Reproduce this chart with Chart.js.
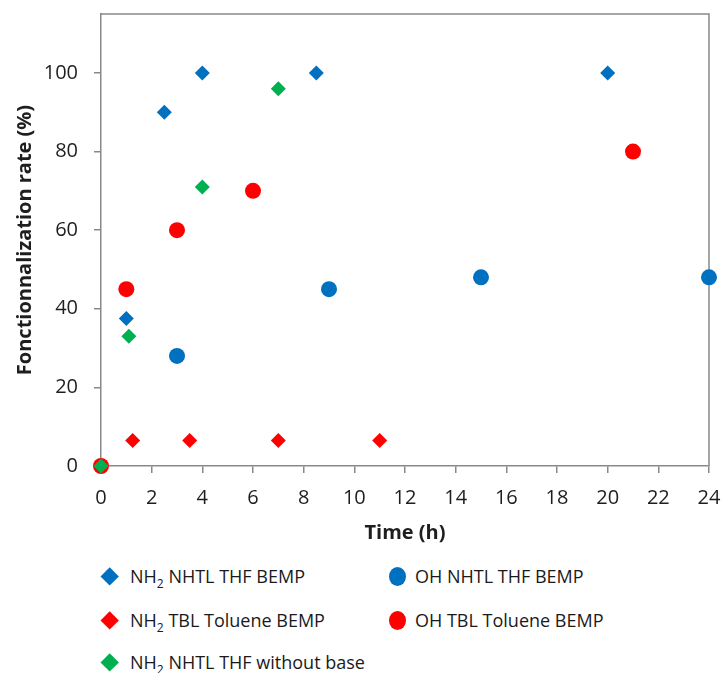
<!DOCTYPE html>
<html>
<head>
<meta charset="utf-8">
<script src="https://cdn.jsdelivr.net/npm/chart.js@4/dist/chart.umd.min.js"></script>
<style>
  html, body { margin: 0; padding: 0; background: #ffffff; }
  #wrap { position: relative; width: 724px; height: 673px; overflow: hidden; background: #fff; }
  #c { position: absolute; left: 0; top: 0; }
  .leg { position: absolute; height: 30px; line-height: 30px;
         font-family: "Open Sans", "Noto Sans", sans-serif; font-size: 18px; color: #1a1a1a; white-space: pre; }
  .leg .sub { font-size: 12px; position: relative; top: 5px; }
  .mk { position: absolute; }
</style>
</head>
<body>
<div id="wrap">
  <canvas id="c" width="724" height="560"></canvas>
</div>
<script>
// ---- Data ----
const xTicks = [0, 2, 4, 6, 8, 10, 12, 14, 16, 18, 20, 22, 24];
const yTicks = [0, 20, 40, 60, 80, 100];

const seriesNames = [
  "NH2 NHTL THF BEMP",
  "OH NHTL THF BEMP",
  "NH2 TBL Toluene BEMP",
  "OH TBL Toluene BEMP",
  "NH2 NHTL THF without base"
];
const seriesColors = ["#0070C0", "#0070C0", "#FF0000", "#FF0000", "#00B050"];
const seriesShapes = ["rectRot", "circle", "rectRot", "circle", "rectRot"];

const nh2NhtlThfBempX = [1, 2.5, 4, 8.5, 20];
const nh2NhtlThfBempY = [37.5, 90, 100, 100, 100];

const ohNhtlThfBempX = [3, 9, 15, 24];
const ohNhtlThfBempY = [28, 45, 48, 48];

const nh2TblTolueneBempX = [1.25, 3.5, 7, 11];
const nh2TblTolueneBempY = [6.5, 6.5, 6.5, 6.5];

const ohTblTolueneBempX = [0, 1, 3, 6, 21];
const ohTblTolueneBempY = [0, 45, 60, 70, 80];

const nh2NhtlThfNoBaseX = [0, 1.1, 4, 7];
const nh2NhtlThfNoBaseY = [0, 33, 71, 96];

const seriesX = [nh2NhtlThfBempX, ohNhtlThfBempX, nh2TblTolueneBempX, ohTblTolueneBempX, nh2NhtlThfNoBaseX];
const seriesY = [nh2NhtlThfBempY, ohNhtlThfBempY, nh2TblTolueneBempY, ohTblTolueneBempY, nh2NhtlThfNoBaseY];

// ---- Build datasets ----
const datasets = seriesNames.map((name, i) => ({
  label: name,
  data: seriesX[i].map((x, k) => ({ x: x, y: seriesY[i][k] })),
  pointStyle: seriesShapes[i],
  pointRadius: seriesShapes[i] === "circle" ? 8 : 7.5,
  pointHoverRadius: seriesShapes[i] === "circle" ? 8 : 7.5,
  backgroundColor: seriesColors[i],
  borderColor: seriesColors[i],
  borderWidth: 0,
  showLine: false,
  clip: false,
  order: seriesNames.length - i   // later series drawn on top (as in Excel)
}));

const AXIS = "#898989";
const TXT = "#1e1e1e";
const FONT = '"Open Sans", "Noto Sans", sans-serif';

const frame = {
  id: "frame",
  beforeDatasetsDraw(chart) {
    const a = chart.chartArea, ctx = chart.ctx;
    ctx.save();
    ctx.strokeStyle = AXIS;
    ctx.lineWidth = 1.5;
    ctx.beginPath();
    ctx.moveTo(a.left, a.top);
    ctx.lineTo(a.right, a.top);
    ctx.lineTo(a.right, a.bottom);
    ctx.stroke();
    ctx.restore();
  }
};

function noPad(s) { s.paddingLeft = 0; s.paddingRight = 0; s.paddingTop = 0; s.paddingBottom = 0; }

new Chart(document.getElementById("c"), {
  type: "scatter",
  data: { datasets },
  plugins: [frame],
  options: {
    responsive: false,
    animation: false,
    events: [],
    layout: { padding: { left: 0, top: 14, right: 15, bottom: 0 } },
    plugins: { legend: { display: false }, tooltip: { enabled: false } },
    scales: {
      x: {
        type: "linear", min: 0, max: 24,
        afterBuildTicks: s => { s.ticks = xTicks.map(v => ({ value: v })); },
        afterFit: s => { s.height = 94; noPad(s); },
        ticks: { font: { family: FONT, size: 20 }, color: TXT, padding: 13, maxRotation: 0, autoSkip: false },
        grid: { drawOnChartArea: false, drawTicks: true, tickLength: 7, color: AXIS, lineWidth: 1.5 },
        border: { color: AXIS, width: 1.5 },
        title: { display: true, text: "Time (h)", font: { family: FONT, size: 20, weight: "bold" }, color: TXT, padding: { top: 0, bottom: 15 } }
      },
      y: {
        type: "linear", min: 0, max: 115,
        afterBuildTicks: s => { s.ticks = yTicks.map(v => ({ value: v })); },
        afterFit: s => { s.width = 101; noPad(s); },
        ticks: { font: { family: FONT, size: 20 }, color: TXT, padding: 16, autoSkip: false },
        grid: { drawOnChartArea: false, drawTicks: true, tickLength: 7, color: AXIS, lineWidth: 1.5 },
        border: { color: AXIS, width: 1.5 },
        title: { display: true, text: "Fonctionnalization rate (%)", font: { family: FONT, size: 20, weight: "bold" }, color: TXT, padding: { top: 13, bottom: 0 } }
      }
    }
  }
});

// ---- HTML legend (2 columns, rows filled left to right, like the original) ----
const legendCols = [{ mx: 110, tx: 130 }, { mx: 397, tx: 415 }];
const legendRows = [576.5, 620.5, 663];
const wrap = document.getElementById("wrap");
seriesNames.forEach((name, i) => {
  const col = legendCols[i % 2], rowY = legendRows[Math.floor(i / 2)];
  const mk = document.createElement("div");
  mk.className = "mk";
  if (seriesShapes[i] === "circle") {
    const w = 17, h = 19;
    Object.assign(mk.style, { left: (col.mx - w / 2) + "px", top: (rowY - h / 2) + "px", width: w + "px", height: h + "px",
      borderRadius: "50%", background: seriesColors[i] });
  } else {
    const s = 13.4;
    Object.assign(mk.style, { left: (col.mx - s / 2) + "px", top: (rowY - s / 2) + "px", width: s + "px", height: s + "px",
      transform: "rotate(45deg)", background: seriesColors[i] });
  }
  wrap.appendChild(mk);
  const t = document.createElement("div");
  t.className = "leg";
  t.style.left = col.tx + "px";
  t.style.top = (rowY - 16) + "px";
  t.innerHTML = name.replace(/^NH2/, 'NH<span class="sub">2</span>');
  wrap.appendChild(t);
});
</script>
</body>
</html>
